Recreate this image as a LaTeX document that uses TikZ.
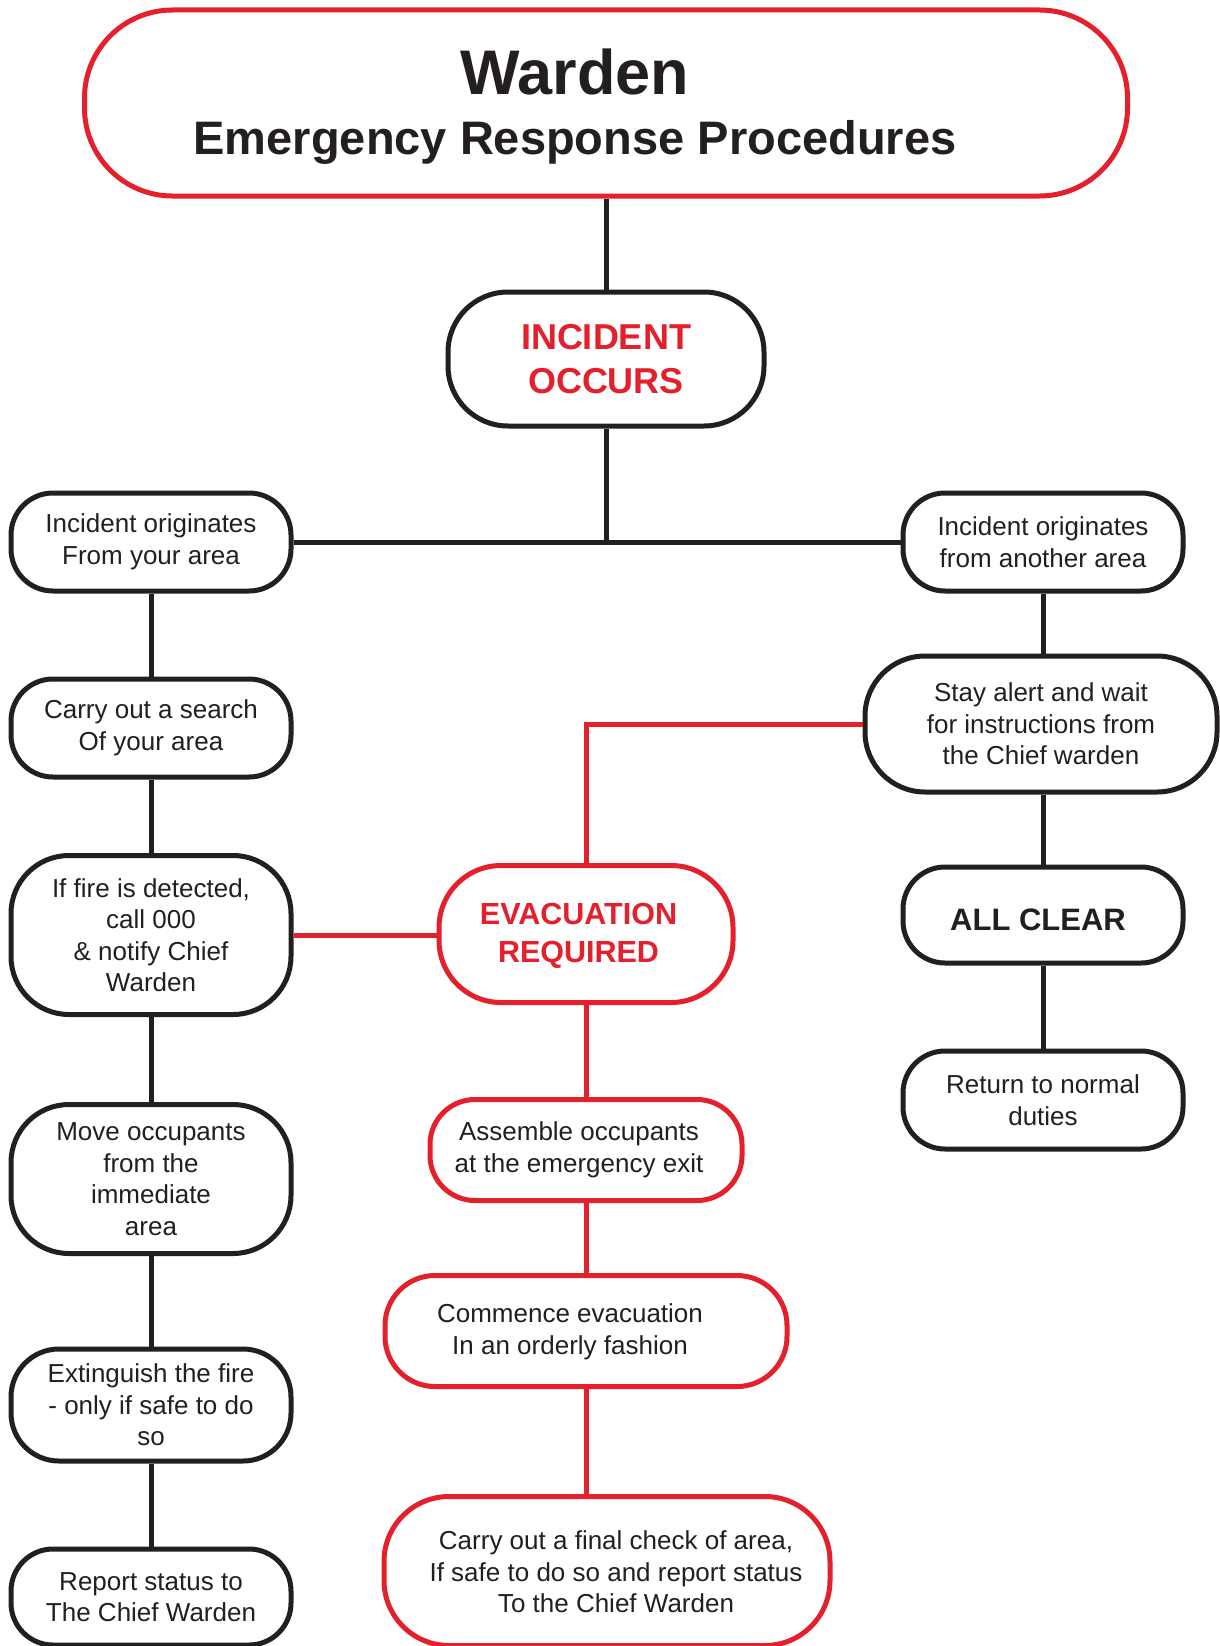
\documentclass[tikz,border=0pt]{standalone}
\usepackage{fontspec}
\setmainfont{Liberation Sans}
\definecolor{wred}{HTML}{E4202C}
\definecolor{wblk}{HTML}{231F20}
\tikzset{
  box/.style={draw=wblk, line width=5pt, fill=white, align=center, inner sep=0pt,
    font=\fontsize{26}{31.5}\selectfont, text=wblk},
  rbox/.style={box, draw=wred},
  txt/.style={align=center, inner sep=0pt, font=\fontsize{26}{31.5}\selectfont, text=wblk},
  bline/.style={draw=wblk, line width=5pt},
  rline/.style={draw=wred, line width=5pt},
  redhead/.style={text=wred, font=\bfseries\fontsize{36}{44}\selectfont},
}
\begin{document}
\begin{tikzpicture}[x=1pt,y=-1pt]
\useasboundingbox[fill=white] (0,0) rectangle (1219,1646);

% title
\node[rbox, minimum width=1043pt, minimum height=186pt, rounded corners=88pt] (title) at (606,103) {};
\node[anchor=base, text=wblk, font=\bfseries\fontsize{63}{63}\selectfont] (titleA) at (575,94.5) {Warden};
\node[anchor=base, text=wblk, font=\bfseries\fontsize{47}{47}\selectfont] (titleB) at (575,154) {Emergency Response Procedures};

\node[box, minimum width=316pt, minimum height=134pt, rounded corners=60pt, redhead] (inc) at (606,359) {INCIDENT\\OCCURS};

% left column
\node[box, minimum width=280pt, minimum height=98pt, rounded corners=42pt] (l1) at (151,542) {Incident originates\\From your area};
\node[box, minimum width=280pt, minimum height=98pt, rounded corners=42pt] (l2) at (151,728) {Carry out a search\\Of your area};
\node[box, minimum width=280pt, minimum height=159pt, rounded corners=58pt] (l3) at (151,935) {If fire is detected,\\call 000\\\&\ notify Chief\\Warden};
\node[box, minimum width=280pt, minimum height=149pt, rounded corners=58pt] (l4) at (151,1179) {Move occupants\\from the\\immediate\\area};
\node[box, minimum width=280pt, minimum height=112pt, rounded corners=48pt] (l5) at (151,1405) {Extinguish the fire\\- only if safe to do\\so};
\node[box, minimum width=280pt, minimum height=96pt, rounded corners=42pt] (l6) at (151,1597) {Report status to\\The Chief Warden};

% right column
\node[box, minimum width=280pt, minimum height=98pt, rounded corners=42pt] (r1) at (1043,542) {Incident originates\\from another area};
\node[box, minimum width=352pt, minimum height=136pt, rounded corners=60pt] (stay) at (1041,724) {Stay alert and wait\\for instructions from\\the Chief warden};
\node[box, minimum width=280pt, minimum height=96pt, rounded corners=42pt] (clear) at (1043,915) {};
\node[txt, font=\bfseries\fontsize{31}{38}\selectfont] (clearT) at (1038,920) {ALL CLEAR};
\node[box, minimum width=280pt, minimum height=98pt, rounded corners=42pt] (ret) at (1043,1100) {Return to normal\\duties};

% middle column
\node[rbox, minimum width=294pt, minimum height=137pt, rounded corners=62pt] (evac) at (586,934) {};
\node[txt, text=wred, font=\bfseries\fontsize{30.5}{38}\selectfont] (evacT) at (578.5,936) {EVACUATION\\REQUIRED};
\node[rbox, minimum width=312pt, minimum height=101pt, rounded corners=45pt] (asm) at (586,1150) {};
\node[txt] (asmT) at (579,1150) {Assemble occupants\\at the emergency exit};
\node[rbox, minimum width=402pt, minimum height=111pt, rounded corners=50pt] (com) at (586,1331) {};
\node[txt] (comT) at (570,1332) {Commence evacuation\\In an orderly fashion};
\node[rbox, minimum width=446pt, minimum height=149pt, rounded corners=65pt] (fin) at (607,1571) {};
\node[txt] (finT) at (616,1572) {Carry out a final check of area,\\If safe to do so and report status\\To the Chief Warden};

% connectors
\draw[bline] (title.south) -- (inc.north);
\draw[bline] (inc.south) -- (inc.south |- l1.east);
\draw[bline] (l1.east) -- (r1.west);
\draw[bline] (l1.south) -- (l2.north);
\draw[bline] (l2.south) -- (l3.north);
\draw[bline] (l3.south) -- (l4.north);
\draw[bline] (l4.south) -- (l5.north);
\draw[bline] (l5.south) -- (l6.north);
\draw[bline] (r1.south) -- (r1.south |- stay.north);
\draw[bline] (clear.north |- stay.south) -- (clear.north);
\draw[bline] (clear.south) -- (ret.north);

\draw[rline] (stay.west) -| (evac.north);
\draw[rline] (l3.east) -- (l3.east -| evac.west);
\draw[rline] (evac.south) -- (asm.north);
\draw[rline] (asm.south) -- (com.north);
\draw[rline] (com.south) -- (com.south |- fin.north);
\end{tikzpicture}
\end{document}
